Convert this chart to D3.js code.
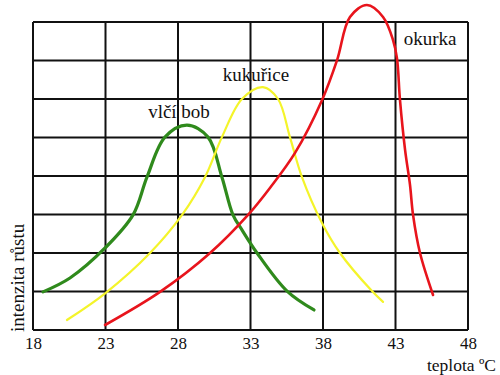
<!DOCTYPE html>
<html><head><meta charset="utf-8">
<script src="https://cdn.jsdelivr.net/npm/d3@7"></script>
<style>body{margin:0;background:#fff}svg{display:block}</style>
</head><body>
<script>
const xTicks = [18, 23, 28, 33, 38, 43, 48];
const yGrid = [0, 1, 2, 3, 4, 5, 6, 7, 8];
const seriesNames = ["vlčí bob", "kukuřice", "okurka"];
const seriesColors = ["#2f8a1c", "#f4f42a", "#e8141c"];
const vlciBob = [[18.69,0.99],[20.55,1.35],[22.97,2.13],[24.9,2.99],[25.86,3.97],[27.1,5.01],[28.62,5.32],[30.07,5.01],[31.03,3.97],[31.79,2.99],[32.41,2.6],[33.45,2.0],[35.52,1.01],[37.38,0.52]];
const kukurice = [[20.34,0.26],[23.0,0.96],[26.07,2.0],[28.28,2.99],[29.86,3.97],[31.03,5.01],[32.41,6.0],[33.86,6.31],[34.9,6.0],[35.72,5.01],[36.55,3.97],[37.93,2.78],[39.17,2.0],[41.38,1.01],[42.14,0.73]];
const okurka = [[22.97,0.13],[26.76,0.99],[30.21,2.0],[32.83,2.99],[34.34,3.69],[36.07,4.6],[37.93,5.97],[38.97,7.01],[39.86,8.13],[41.03,8.44],[42.14,8.13],[42.83,7.53],[43.1,7.06],[43.31,5.97],[43.66,4.68],[44.0,3.77],[44.21,2.99],[44.69,2.0],[45.59,0.91]];
const labels = [{t:"vlčí bob", x:28.07, y:5.5},{t:"kukuřice", x:33.38, y:6.47},{t:"okurka", x:45.38, y:7.4}];
const xTitle = "teplota ºC";
const yTitle = "intenzita růstu";

const W = 500, H = 375;
const svg = d3.select("body").append("svg").attr("width", W).attr("height", H);
const x = d3.scaleLinear().domain([18, 48]).range([33, 468]);
const y = d3.scaleLinear().domain([0, 8]).range([330, 22]);
const serif = "'Liberation Serif','DejaVu Serif',serif";

// grid
const g = svg.append("g");
g.selectAll("line.v").data(xTicks).join("line")
  .attr("x1", d => x(d)).attr("x2", d => x(d)).attr("y1", y(0)).attr("y2", y(8))
  .attr("stroke", "#111").attr("stroke-width", 2);
g.selectAll("line.h").data(yGrid).join("line")
  .attr("x1", x(18)).attr("x2", x(48)).attr("y1", d => y(d)).attr("y2", d => y(d))
  .attr("stroke", "#111").attr("stroke-width", 2);

// x axis labels
const xAxis = d3.axisBottom(x).tickValues(xTicks).tickSize(0).tickPadding(7).tickFormat(d3.format("d"));
const ax = svg.append("g").attr("transform", `translate(0,${y(0)})`).call(xAxis);
ax.select(".domain").remove();
ax.selectAll("text").attr("font-family", serif).attr("font-size", 17).attr("fill", "#111");

svg.append("text").attr("x", 496).attr("y", 371).attr("text-anchor", "end")
  .attr("font-family", serif).attr("font-size", 17.5).attr("fill", "#111").text(xTitle);
svg.append("text").attr("transform", `translate(24,332) rotate(-90)`).attr("text-anchor", "start")
  .attr("font-family", serif).attr("font-size", 19).attr("fill", "#111").text(yTitle);

// curves
const line = d3.line().x(d => x(d[0])).y(d => y(d[1])).curve(d3.curveCatmullRom.alpha(0.5));
const data = [vlciBob, kukurice, okurka];
const widths = [3.2, 2.2, 2.6];
svg.selectAll("path.s").data(data).join("path")
  .attr("d", line).attr("fill", "none")
  .attr("stroke", (d, i) => seriesColors[i]).attr("stroke-width", (d, i) => widths[i])
  .attr("stroke-linecap", "round");

// labels
svg.selectAll("text.lbl").data(labels).join("text")
  .attr("x", d => x(d.x)).attr("y", d => y(d.y)).attr("text-anchor", "middle")
  .attr("font-family", serif).attr("font-size", 19).attr("fill", "#111")
  .text(d => d.t);
</script>
</body></html>
